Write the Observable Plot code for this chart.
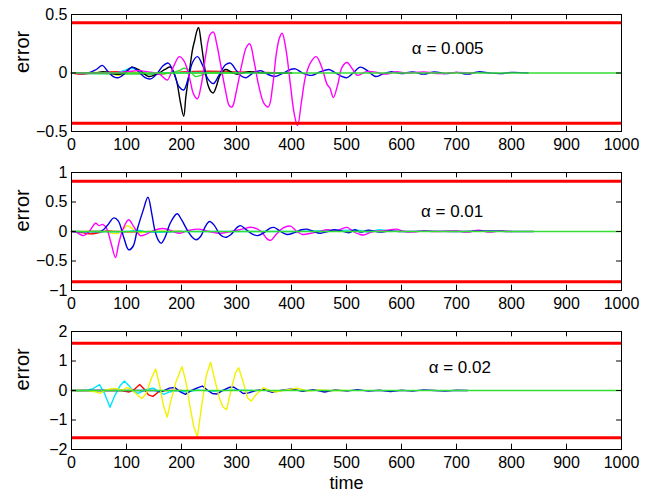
<!DOCTYPE html>
<html><head><meta charset="utf-8">
<script src="https://cdn.jsdelivr.net/npm/d3@7"></script>
<script src="https://cdn.jsdelivr.net/npm/@observablehq/plot@0.6"></script>
<style>
body{margin:0;background:#fff;font-family:"Liberation Sans",Arial,sans-serif;}
#chart svg{display:block;}
</style></head><body><div id="chart"></div>
<script>
// ---- tick labels ----
const xTicks = [0,100,200,300,400,500,600,700,800,900,1000];
const yTicks1 = [-0.5,0,0.5];
const yTicks2 = [-1,-0.5,0,0.5,1];
const yTicks3 = [-2,-1,0,1,2];
const yDomains = [[-0.5,0.5],[-1,1],[-2,2]];
const limits = [0.43,0.85,1.6];
const alphaLabels = ["α = 0.005","α = 0.01","α = 0.02"];
const alphaPos = [[684,0.21],[692,0.34],[706,0.78]];

// ---- panel 1 (alpha = 0.005) series: [time, error] ----
const p1Black = [[0,0],[40,0],[60,0.01],[80,-0.01],[95,0],[110,0.05],[125,0.02],[140,-0.03],[155,-0.01],[170,0.03],[180,0.05],[190,-0.05],[198,-0.25],[204,-0.37],[208,-0.2],[214,0],[220,0.2],[224,0.28],[228,0.36],[231,0.39],[236,0.25],[242,0.05],[248,-0.1],[254,-0.16],[258,-0.17],[263,-0.12],[270,-0.02],[280,0.03],[290,0.01],[300,-0.01],[320,0.01],[350,0],[400,0]];
const p1Magenta = [[0,0],[60,0],[100,0.01],[120,0.02],[140,0.01],[160,-0.01],[174,-0.06],[185,0.05],[196,0.14],[205,0.1],[215,-0.05],[222,-0.18],[229,-0.22],[236,-0.1],[244,0.15],[252,0.33],[258,0.35],[264,0.25],[272,0.05],[280,-0.15],[287,-0.28],[292,-0.29],[300,-0.15],[310,0.08],[318,0.22],[324,0.25],[332,0.1],[340,-0.1],[350,-0.26],[358,-0.29],[366,-0.1],[372,0.15],[378,0.3],[383,0.34],[390,0.2],[398,-0.1],[405,-0.35],[411,-0.45],[418,-0.25],[426,-0.02],[436,0.1],[445,0.14],[455,0.05],[465,-0.1],[470,-0.13],[476,-0.21],[484,-0.1],[492,0.05],[501,0.09],[510,0.04],[520,-0.02],[535,0.01],[550,0.01],[570,-0.01],[590,0.01],[610,0],[640,0.01],[670,-0.005],[700,0.005],[730,0]];
const p1Blue = [[0,0],[30,0],[45,0.03],[56,0.065],[65,0.02],[76,-0.03],[86,-0.04],[98,0],[110,0.05],[122,0.01],[134,-0.04],[144,-0.05],[155,-0.01],[166,0.06],[176,0.085],[186,0],[196,-0.12],[204,-0.145],[212,-0.05],[220,0.09],[229,0.14],[238,0.07],[248,-0.05],[258,-0.09],[268,-0.02],[280,0.07],[289,0.085],[300,0.02],[310,-0.03],[318,-0.04],[330,0],[344,0.02],[356,-0.01],[370,-0.03],[385,0],[398,0.03],[407,0.035],[420,0],[437,-0.02],[452,0.01],[468,0.03],[480,0],[492,-0.03],[501,-0.04],[512,0],[525,0.05],[538,0.02],[553,-0.03],[565,-0.01],[580,0.01],[600,-0.005],[620,0.01],[640,-0.01],[660,0.01],[680,-0.005],[700,0.005],[720,-0.01],[740,0.01],[760,0],[780,-0.005],[800,0.005],[830,0]];
const p1Cyan = [[0,0],[80,0],[95,0.02],[105,0.035],[115,0.035],[125,0.01],[140,-0.01],[160,0],[400,0]];
const p1Yellow = [[0,0],[70,0],[85,-0.02],[95,-0.01],[110,0.01],[130,0],[300,0]];
const p1Red = [[0,0],[20,-0.01],[40,0],[100,0.01],[150,-0.01],[200,0.01],[250,0.015],[300,0.01],[350,0.005],[400,0]];
const p1Green = [[0,0],[180,0],[195,0.02],[205,0.04],[215,0.02],[225,-0.03],[235,-0.02],[250,0],[300,0]];

// ---- panel 2 (alpha = 0.01) ----
const p2Blue = [[0,0],[40,0],[55,0.01],[65,0.1],[77,0.23],[85,0.18],[95,-0.1],[104,-0.31],[112,-0.25],[120,0.05],[130,0.35],[139,0.58],[146,0.3],[152,0],[158,-0.15],[163,-0.2],[170,-0.1],[180,0.15],[192,0.3],[200,0.2],[212,0],[220,-0.1],[227,-0.14],[235,-0.08],[243,0.08],[251,0.17],[260,0.1],[270,-0.05],[280,-0.1],[290,-0.05],[300,0.06],[307,0.1],[318,0.03],[328,-0.04],[338,-0.07],[350,-0.02],[360,0.05],[368,0.07],[380,0],[392,-0.05],[405,-0.02],[418,0.03],[428,0.04],[440,0],[452,-0.03],[466,0],[478,0.03],[490,0.01],[505,-0.02],[515,0.03],[525,-0.01],[540,0.02],[560,-0.01],[580,0.01],[600,0],[640,0.005],[700,0],[760,0.01],[800,0],[840,0]];
const p2Magenta = [[0,0],[10,-0.02],[22,-0.07],[32,0],[44,0.14],[50,0.1],[57,0.12],[64,0.05],[72,-0.2],[80,-0.44],[86,-0.2],[94,0.05],[104,0.2],[112,0.1],[125,-0.07],[135,-0.05],[150,0.02],[165,0.05],[180,0.02],[195,-0.03],[210,0.01],[230,0.04],[250,0],[270,-0.03],[290,0],[310,0.04],[328,0.07],[345,0],[355,-0.12],[362,-0.15],[372,-0.05],[385,0.06],[398,0.09],[410,0],[420,-0.05],[435,-0.03],[450,0],[465,0.03],[480,0.01],[490,0.04],[501,0.07],[512,0],[524,-0.05],[531,-0.06],[545,-0.01],[560,0.01],[575,0.02],[590,0.04],[605,0],[620,-0.01],[640,0.01],[660,0],[700,0.01],[720,-0.01],[740,0.02],[760,-0.01],[780,0.01],[800,0]];
const p2Yellow = [[0,0],[60,0],[75,-0.03],[85,-0.03],[95,0.05],[102,0.1],[110,0.05],[120,-0.02],[140,0],[200,0]];
const p2Red = [[0,0],[20,-0.02],[35,-0.04],[50,-0.02],[65,0.01],[80,0],[200,0]];
const p2Cyan = [[0,0],[100,0],[120,0.02],[140,-0.01],[200,0],[400,0],[520,0.02],[540,-0.01],[560,0.03],[580,0]];

// ---- panel 3 (alpha = 0.02) ----
const p3Cyan = [[0,0],[25,0],[38,0.05],[51,0.2],[60,-0.1],[70,-0.57],[78,-0.2],[88,0.15],[96,0.32],[105,0.15],[114,-0.05],[121,-0.1],[132,0],[140,0.05],[149,0.08],[160,-0.05],[168,-0.13],[178,-0.05],[190,0],[210,-0.05],[230,0.02],[260,-0.03],[290,0.02],[330,0]];
const p3Yellow = [[0,0],[30,0],[45,-0.05],[52,-0.1],[60,0],[70,0.05],[80,0.07],[92,0],[100,0.1],[108,0.05],[120,-0.15],[128,-0.27],[136,-0.1],[145,0.4],[153,0.73],[160,0.2],[167,-0.5],[174,-0.9],[180,-0.4],[190,0.3],[201,0.81],[208,0.3],[215,-0.5],[222,-1.2],[229,-1.58],[236,-0.6],[245,0.5],[253,0.96],[260,0.4],[268,-0.2],[275,-0.55],[282,-0.65],[290,0],[298,0.6],[304,0.77],[312,0.3],[320,-0.25],[327,-0.36],[335,-0.15],[349,0.1],[360,0],[370,-0.05],[385,0],[410,0.08],[430,-0.02],[450,0.02],[470,0],[500,0]];
const p3Red = [[0,0],[90,0],[105,-0.05],[115,0.05],[124,0.2],[132,0.05],[140,-0.15],[148,-0.2],[158,-0.05],[170,0],[200,0]];
const p3Blue = [[0,0],[150,0],[165,-0.03],[178,0.08],[188,0.1],[198,-0.05],[207,-0.13],[218,0],[230,0.1],[238,0.15],[248,0],[256,-0.1],[264,-0.12],[275,0],[286,0.1],[294,0.12],[305,0],[312,-0.1],[322,-0.08],[335,0],[350,0.03],[365,-0.06],[380,0],[400,0.05],[420,-0.03],[440,0.03],[460,-0.05],[480,0.02],[500,-0.02],[520,0.03],[540,-0.02],[560,0.01],[580,-0.04],[600,0.01],[620,-0.02],[640,0.02],[660,0],[680,-0.02],[700,0.01],[720,0]];

const C = {blue:"#0000dd", magenta:"#ff00ff", black:"#000000", cyan:"#00e5ff", yellow:"#f2f200", red:"#ff0000", green:"#33dd33"};

const panels = [
  {series:[[p1Red,C.red],[p1Yellow,C.yellow],[p1Cyan,C.cyan],[p1Green,C.green],[p1Black,C.black],[p1Blue,C.blue],[p1Magenta,C.magenta]], yTicks:yTicks1, height:159, marginTop:14, marginBottom:28, curve:"catmull-rom"},
  {series:[[p2Red,C.red],[p2Yellow,C.yellow],[p2Cyan,C.cyan],[p2Magenta,C.magenta],[p2Blue,C.blue]], yTicks:yTicks2, height:159, marginTop:13, marginBottom:28, curve:"catmull-rom"},
  {series:[[p3Red,C.red],[p3Cyan,C.cyan],[p3Blue,C.blue],[p3Yellow,C.yellow]], yTicks:yTicks3, height:175, marginTop:13, marginBottom:44, curve:"linear", time:true}
];

const fmt = d => d < 0 ? "\u2212" + Math.abs(d) : String(d);
const chart = document.getElementById("chart");

panels.forEach((p, i) => {
  const [y0, y1] = yDomains[i];
  const ty = (y1 - y0) * 0.045;
  const tx = 9;
  const marks = [];
  p.series.forEach(([data, color]) => {
    marks.push(Plot.line(data, {x: d => d[0], y: d => d[1], stroke: color, strokeWidth: 1.4, curve: p.curve}));
  });
  marks.push(Plot.ruleY([0], {stroke: C.green, strokeWidth: 1.6}));
  marks.push(Plot.ruleY([limits[i], -limits[i]], {stroke: C.red, strokeWidth: 3}));
  marks.push(Plot.frame({stroke: "black", strokeWidth: 1}));
  marks.push(Plot.ruleX(xTicks, {x: d => d, y1: y0, y2: y0 + ty, stroke: "black"}));
  marks.push(Plot.ruleX(xTicks, {x: d => d, y1: y1 - ty, y2: y1, stroke: "black"}));
  marks.push(Plot.ruleY(p.yTicks, {y: d => d, x1: 0, x2: tx, stroke: "black"}));
  marks.push(Plot.ruleY(p.yTicks, {y: d => d, x1: 1000 - tx, x2: 1000, stroke: "black"}));
  marks.push(Plot.axisX(xTicks, {tickSize: 0, tickPadding: 7, fontSize: 16, label: null, tickFormat: d => String(d)}));
  marks.push(Plot.axisY(p.yTicks, {tickSize: 0, tickPadding: 4, fontSize: 16, label: null, tickFormat: fmt}));
  marks.push(Plot.text([{x: alphaPos[i][0], y: alphaPos[i][1], t: alphaLabels[i]}], {x: "x", y: "y", text: "t", fontSize: 17, fill: "black"}));
  marks.push(Plot.text(["error"], {frameAnchor: "left", dx: -49, rotate: -90, fontSize: 20, fill: "black"}));
  if (p.time) marks.push(Plot.text(["time"], {frameAnchor: "bottom", lineAnchor: "middle", dy: 34, fontSize: 18, fill: "black"}));
  const svg = Plot.plot({
    width: 658, height: p.height,
    marginLeft: 71, marginRight: 37, marginTop: p.marginTop, marginBottom: p.marginBottom,
    style: {fontFamily: "'Liberation Sans', Arial, sans-serif", background: "white", color: "black", overflow: "visible"},
    x: {domain: [0, 1000]},
    y: {domain: yDomains[i]},
    marks
  });
  chart.appendChild(svg);
});
</script></body></html>
